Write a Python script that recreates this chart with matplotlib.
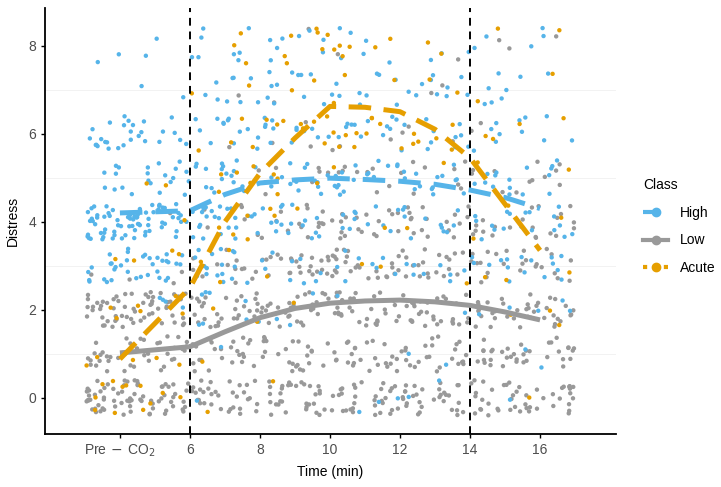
import matplotlib
matplotlib.use("Agg")
import matplotlib.pyplot as plt
from matplotlib.lines import Line2D
import numpy as np

plt.rcParams["font.family"] = ["Liberation Sans", "DejaVu Sans"]

# time bins (centre of each jitter column) and distress levels
time_bins = [3.5, 4.5, 5.5, 6.5, 7.5, 8.5, 9.5, 10.5, 11.5, 12.5, 13.5, 14.5, 15.5, 16.5]
levels = [0, 1, 2, 3, 4, 5, 6, 7, 8]

# point counts per level (rows) and time bin (columns)
high_counts = [
    [0, 0, 0, 1, 0, 0, 0, 1, 2, 1, 1, 0, 1, 0],
    [0, 0, 0, 1, 0, 0, 0, 0, 0, 1, 1, 0, 1, 1],
    [0, 0, 4, 5, 3, 2, 1, 1, 0, 0, 1, 1, 2, 2],
    [12, 12, 12, 12, 5, 5, 4, 4, 4, 4, 4, 4, 6, 6],
    [28, 28, 17, 14, 10, 10, 6, 6, 5, 5, 6, 6, 6, 6],
    [6, 6, 10, 10, 8, 7, 9, 9, 7, 8, 6, 6, 5, 5],
    [11, 11, 6, 6, 7, 7, 6, 6, 6, 6, 5, 5, 3, 3],
    [0, 1, 1, 3, 6, 6, 5, 5, 5, 5, 5, 5, 2, 1],
    [2, 1, 1, 4, 4, 4, 4, 4, 2, 1, 2, 2, 1, 2],
]
low_counts = [
    [26, 25, 20, 17, 16, 16, 16, 16, 16, 16, 15, 15, 16, 15],
    [14, 13, 14, 13, 12, 12, 12, 12, 12, 12, 12, 12, 12, 12],
    [23, 22, 16, 15, 14, 14, 15, 16, 15, 16, 13, 13, 13, 13],
    [1, 1, 2, 4, 9, 10, 14, 15, 10, 10, 9, 10, 7, 7],
    [0, 0, 1, 2, 4, 4, 10, 10, 8, 9, 7, 7, 7, 7],
    [0, 0, 0, 0, 1, 2, 4, 4, 4, 4, 4, 4, 4, 4],
    [0, 0, 0, 0, 1, 1, 2, 2, 1, 2, 1, 2, 0, 0],
    [0, 0, 0, 0, 1, 1, 0, 0, 0, 1, 1, 0, 0, 0],
    [0, 0, 0, 0, 0, 0, 1, 1, 0, 0, 1, 1, 1, 1],
]
acute_counts = [
    [5, 5, 2, 1, 0, 1, 0, 0, 0, 0, 0, 0, 1, 0],
    [2, 2, 2, 1, 0, 0, 0, 0, 0, 0, 0, 0, 0, 0],
    [2, 2, 2, 1, 1, 1, 0, 0, 0, 0, 0, 0, 1, 2],
    [1, 1, 2, 2, 1, 1, 0, 1, 1, 0, 1, 1, 1, 1],
    [0, 0, 1, 1, 3, 2, 1, 0, 1, 1, 0, 1, 1, 1],
    [0, 1, 1, 2, 3, 3, 1, 1, 0, 0, 1, 1, 0, 1],
    [0, 0, 0, 1, 3, 3, 5, 5, 4, 4, 3, 2, 1, 1],
    [0, 0, 0, 1, 1, 1, 1, 2, 1, 1, 1, 1, 0, 1],
    [0, 0, 0, 0, 3, 3, 4, 4, 2, 1, 1, 1, 0, 1],
]

# smoothed class means
line_x = [4, 6, 7, 8, 9, 10, 11, 12, 13, 14, 15, 16]
high_mean = [4.2, 4.25, 4.62, 4.88, 4.95, 4.99, 4.96, 4.92, 4.85, 4.72, 4.55, 4.3]
low_mean = [1.02, 1.16, 1.5, 1.82, 2.03, 2.15, 2.2, 2.22, 2.18, 2.1, 1.95, 1.77]
acute_mean = [0.88, 2.5, 4.0, 5.1, 5.9, 6.62, 6.6, 6.5, 6.1, 5.45, 4.4, 3.35]

classes = ["High", "Low", "Acute"]
colors = {"High": "#56B4E9", "Low": "#999999", "Acute": "#E69F00"}


def hash01(n, k):
    # deterministic integer hash in [0, 1), used as jitter offset
    h = (n * 374761393 + k * 668265263) & 0xFFFFFFFF
    h = ((h ^ (h >> 13)) * 1274126177) & 0xFFFFFFFF
    h ^= h >> 16
    return h / 2 ** 32


def jittered(counts, seed_offset):
    xs, ys = [], []
    n = seed_offset
    for li, lev in enumerate(levels):
        for ti, t in enumerate(time_bins):
            for _ in range(counts[li][ti]):
                n += 1
                xs.append(t + 0.94 * (hash01(n, 1) - 0.5))
                ys.append(lev + 0.8 * (hash01(n, 2) - 0.5))
    return np.array(xs), np.array(ys)


fig = plt.figure(figsize=(7.21, 4.87), dpi=100)
ax = fig.add_axes([0.0624, 0.109, 0.792, 0.875])

for lev in [1, 3, 5, 7]:
    ax.axhline(lev, color="#f0f0f0", lw=0.6, zorder=0)

for cls, counts, off in [("Low", low_counts, 0), ("High", high_counts, 5000), ("Acute", acute_counts, 9000)]:
    x, y = jittered(counts, off)
    ax.scatter(x, y, s=10, color=colors[cls], edgecolors="none", zorder=2)

ax.axvline(6, color="black", lw=1.4, dashes=(4, 3), zorder=3)
ax.axvline(14, color="black", lw=1.4, dashes=(4, 3), zorder=3)

lw = 3.6
ax.plot(line_x, low_mean, color=colors["Low"], lw=lw, solid_capstyle="butt", zorder=4)
ax.plot(line_x, high_mean, color=colors["High"], lw=lw, dashes=(4.5, 2.6), zorder=4)
ax.plot(line_x, acute_mean, color=colors["Acute"], lw=lw, dashes=(4.5, 2.5), zorder=4)

ax.set_xlim(1.86, 18.17)
ax.set_ylim(-0.82, 8.86)
ax.set_xticks([4, 6, 8, 10, 12, 14, 16])
ax.set_xticklabels([r"Pre$\,-\,$CO$_2$", "6", "8", "10", "12", "14", "16"])
ax.set_yticks([0, 2, 4, 6, 8])
for s in ["top", "right"]:
    ax.spines[s].set_visible(False)
for s in ["left", "bottom"]:
    ax.spines[s].set_linewidth(1.3)
ax.tick_params(labelsize=10, labelcolor="#4d4d4d", length=3, width=1)
ax.set_xlabel("Time (min)", fontsize=10, labelpad=4)
ax.set_ylabel("Distress", fontsize=10, labelpad=6)

handles = [
    Line2D([0], [0], color=colors["High"], lw=3, marker="o", ms=6, dashes=(4, 2.6)),
    Line2D([0], [0], color=colors["Low"], lw=3, marker="o", ms=6),
    Line2D([0], [0], color=colors["Acute"], lw=3, marker="o", ms=6, dashes=(1, 1.5)),
]
leg = fig.legend(handles, classes, title="Class", loc="center left",
                 bbox_to_anchor=(0.875, 0.535), frameon=False, fontsize=10,
                 title_fontsize=10, handlelength=1.8, labelspacing=1.0,
                 alignment="left")

fig.savefig("out.png", dpi=100)
